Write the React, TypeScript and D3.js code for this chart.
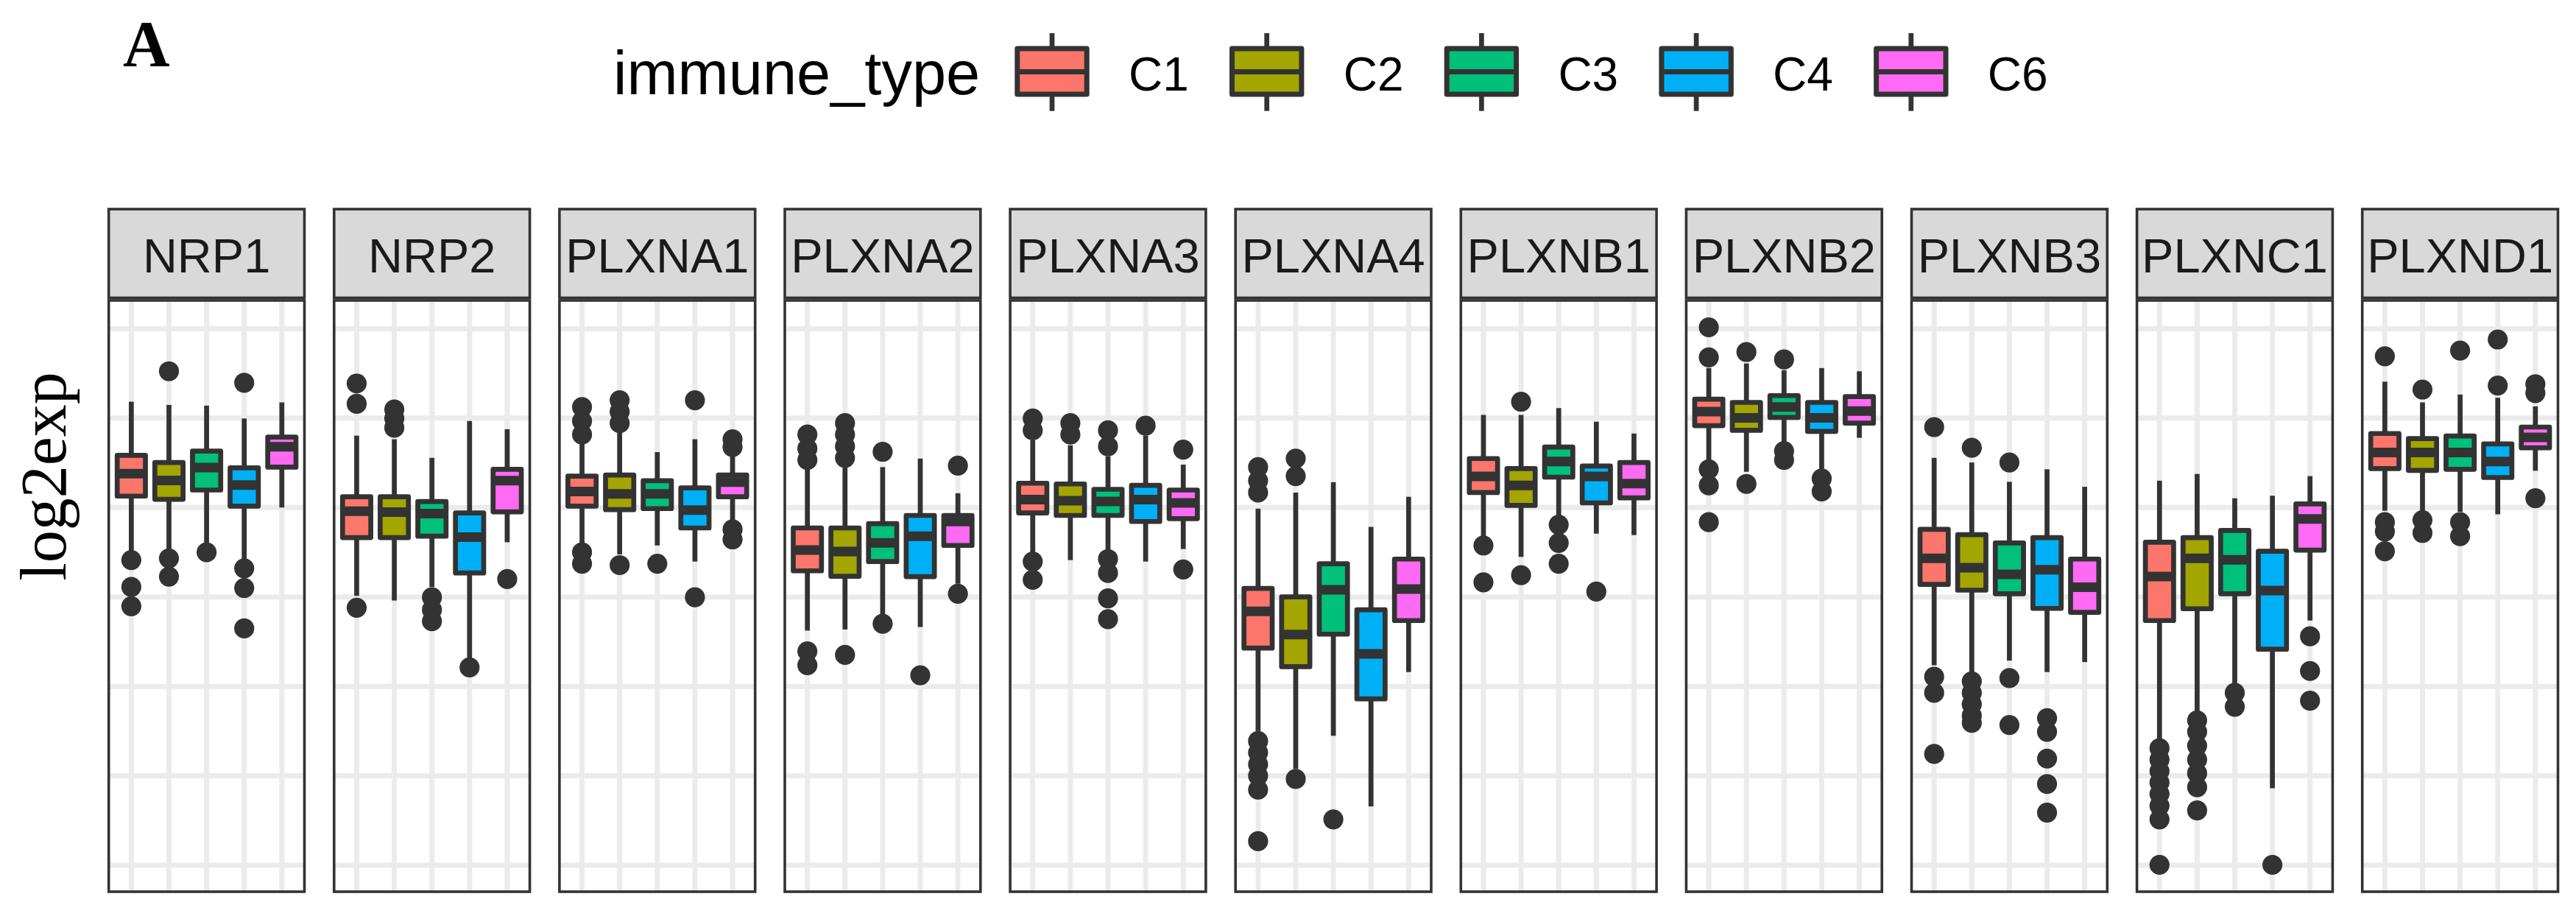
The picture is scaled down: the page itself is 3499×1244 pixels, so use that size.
import React from "react";
import * as d3 from "d3";

const genes = ["NRP1", "NRP2", "PLXNA1", "PLXNA2", "PLXNA3", "PLXNA4", "PLXNB1", "PLXNB2", "PLXNB3", "PLXNC1", "PLXND1"];
const immuneTypes = ["C1", "C2", "C3", "C4", "C6"];
const typeColors = ["#FC766C", "#A3A500", "#00C07C", "#00B0F6", "#FF6AF4"];
const yGridValues = [0, 2.5, 5, 7.5, 10, 12.5, 15];

// rows = genes, columns = immune types C1..C6
const lowerWhisker = [
  [8.78, 8.81, 9.01, 8.49, 10.0],
  [7.53, 7.4, 7.78, 5.79, 9.03],
  [9.01, 8.69, 8.94, 8.49, 9.59],
  [6.56, 6.59, 7.01, 6.66, 7.87],
  [8.75, 8.53, 8.78, 8.49, 8.84],
  [3.75, 2.69, 3.62, 1.64, 5.4],
  [9.2, 8.62, 9.72, 9.27, 9.23],
  [11.33, 11.0, 11.78, 11.07, 11.95],
  [5.59, 5.4, 5.72, 5.4, 5.68],
  [3.53, 4.3, 5.04, 2.15, 6.84],
  [9.91, 9.91, 9.88, 9.81, 11.03],
];
const q1 = [
  [10.32, 10.23, 10.49, 10.04, 11.13],
  [9.16, 9.16, 9.2, 8.17, 9.88],
  [10.04, 9.94, 9.97, 9.43, 10.3],
  [8.23, 8.08, 8.49, 8.07, 8.94],
  [9.85, 9.78, 9.78, 9.61, 9.69],
  [6.07, 5.55, 6.46, 4.65, 6.84],
  [10.42, 10.06, 10.85, 10.13, 10.27],
  [12.29, 12.16, 12.52, 12.13, 12.36],
  [7.85, 7.69, 7.59, 7.18, 7.07],
  [6.84, 7.17, 7.59, 6.04, 8.81],
  [11.09, 11.04, 11.07, 10.84, 11.67],
];
const median = [
  [10.95, 10.76, 11.12, 10.63, 11.7],
  [9.9, 9.87, 9.83, 9.17, 10.75],
  [10.45, 10.38, 10.38, 9.93, 10.71],
  [8.81, 8.77, 9.01, 9.2, 9.61],
  [10.22, 10.19, 10.17, 10.22, 10.13],
  [7.1, 6.45, 7.7, 5.91, 7.72],
  [10.87, 10.62, 11.29, 10.87, 10.67],
  [12.68, 12.51, 12.81, 12.51, 12.7],
  [8.58, 8.32, 8.13, 8.26, 7.77],
  [8.07, 8.58, 8.54, 7.68, 9.68],
  [11.54, 11.54, 11.54, 11.29, 11.96],
];
const q3 = [
  [11.46, 11.26, 11.58, 11.11, 11.97],
  [10.3, 10.3, 10.17, 9.85, 11.07],
  [10.88, 10.91, 10.75, 10.55, 10.91],
  [9.43, 9.43, 9.55, 9.78, 9.78],
  [10.68, 10.66, 10.51, 10.62, 10.49],
  [7.74, 7.5, 8.43, 7.14, 8.56],
  [11.37, 11.09, 11.69, 11.16, 11.26],
  [13.03, 12.94, 13.13, 12.94, 13.1],
  [9.39, 9.24, 9.01, 9.16, 8.56],
  [9.03, 9.16, 9.36, 8.78, 10.1],
  [12.07, 11.93, 12.0, 11.78, 12.25],
];
const upperWhisker = [
  [12.96, 12.87, 12.85, 12.49, 12.94],
  [12.01, 11.91, 11.39, 12.42, 12.19],
  [11.78, 12.1, 11.55, 11.91, 11.43],
  [11.07, 11.2, 11.13, 11.37, 10.4],
  [11.88, 11.74, 11.43, 12.01, 11.2],
  [9.97, 10.42, 10.71, 9.46, 10.3],
  [12.59, 12.59, 12.78, 12.4, 12.07],
  [13.9, 14.03, 13.84, 13.9, 13.81],
  [11.39, 11.26, 10.72, 11.07, 10.58],
  [10.75, 10.94, 10.26, 10.33, 10.88],
  [13.52, 12.94, 13.16, 13.07, 12.83],
];
const outliers = [
  [[8.53, 7.78, 7.24], [13.81, 8.58, 8.07], [8.75], [13.49, 8.3, 7.75, 6.62], []],
  [[13.47, 12.9, 7.2], [12.74, 12.49, 12.23], [7.49, 7.14, 6.82], [5.53], [8.0]],
  [[12.81, 12.42, 12.04, 8.75, 8.43], [13.0, 12.68, 12.36, 8.39], [8.43], [13.0, 7.49], [11.91, 11.69, 9.39, 9.11]],
  [[12.04, 11.65, 11.33, 5.98, 5.59], [12.36, 12.04, 11.71, 11.39, 5.88], [11.56, 6.75], [5.31], [11.17, 7.59]],
  [[12.49, 12.16, 8.49, 7.98], [12.36, 12.04], [12.16, 11.71, 8.56, 8.17, 7.46, 6.88], [12.29], [11.62, 8.27]],
  [[11.13, 10.75, 10.42, 3.47, 3.15, 2.82, 2.5, 2.11, 0.67], [11.37, 10.88, 2.41], [1.28], [], []],
  [[8.94, 7.91], [12.96, 8.11], [9.52, 9.01, 8.43], [7.65], []],
  [[15.04, 14.2, 11.07, 10.62, 9.59], [14.35, 10.66], [14.14, 11.58, 11.33], [10.81, 10.45], []],
  [[12.25, 5.27, 4.82, 3.11], [11.67, 5.14, 4.82, 4.5, 4.18, 3.98], [11.26, 5.23, 3.92], [4.11, 3.73, 2.98, 2.27, 1.47], []],
  [[3.27, 2.95, 2.63, 2.31, 1.99, 1.66, 1.28, 0.01], [4.05, 3.73, 3.34, 2.95, 2.57, 2.18, 1.53], [4.82, 4.43], [0.01], [6.4, 5.43, 4.6]],
  [[14.23, 9.59, 9.33, 8.78], [13.3, 9.65, 9.29], [14.39, 9.59, 9.2], [14.7, 13.41], [13.45, 13.2, 10.26]],
];

const W = 3499;
const H = 1244;
const DARK = "#333333";
const GRID = "#EBEBEB";
const SANS = "'Liberation Sans', Arial, sans-serif";
const SERIF = "'Liberation Serif', 'Times New Roman', serif";

const panelLeft0 = 147.7;
const panelPitch = 306.1;
const panelW = 265.8;
const stripTop = 284;
const stripBottom = 404.5;
const panelTop = 408;
const panelBottom = 1211;

export default function App() {
  const allVals: number[] = [];
  genes.forEach((_, g) => {
    immuneTypes.forEach((_, t) => {
      allVals.push(lowerWhisker[g][t], upperWhisker[g][t], ...outliers[g][t]);
    });
  });
  const [mn, mx] = d3.extent(allVals) as [number, number];
  const pad = (mx - mn) * 0.05;
  const y = d3.scaleLinear().domain([mn - pad, mx + pad]).range([panelBottom, panelTop]);

  const lw = 6.7;
  const boxFrac = 0.75;

  const keyX = d3.scalePoint<string>().domain(immuneTypes).range([1429, 1429 + 291.7 * 4]);

  return (
    <svg width={W} height={H} style={{ position: "absolute", left: 0, top: 0, background: "#fff" }}>
      <rect x={0} y={0} width={W} height={H} fill="#fff" />
      {/* panel tag */}
      <text x={167} y={89} fontFamily={SERIF} fontWeight="bold" fontSize={88} fill="#000">A</text>

      {/* legend */}
      <text x={833} y={128} fontFamily={SANS} fontSize={83} fill="#000">immune_type</text>
      {immuneTypes.map((t, i) => {
        const cx = keyX(t)!;
        return (
          <g key={t}>
            <line x1={cx} x2={cx} y1={45} y2={66} stroke={DARK} strokeWidth={6.7} />
            <line x1={cx} x2={cx} y1={128} y2={150.7} stroke={DARK} strokeWidth={6.7} />
            <rect x={cx - 47.2} y={66} width={94.4} height={62} fill={typeColors[i]} stroke={DARK} strokeWidth={7} strokeLinejoin="round" />
            <line x1={cx - 47.2} x2={cx + 47.2} y1={97.5} y2={97.5} stroke={DARK} strokeWidth={7} />
            <text x={cx + 104} y={123} fontFamily={SANS} fontSize={64} fill="#000">{t}</text>
          </g>
        );
      })}

      {/* y axis title */}
      <text transform={`translate(89,647) rotate(-90)`} textAnchor="middle" fontFamily={SERIF} fontSize={88} fill="#000">log2exp</text>

      {genes.map((gene, g) => {
        const left = panelLeft0 + g * panelPitch;
        const x = d3.scalePoint<string>().domain(immuneTypes).range([left, left + panelW]).padding(0.6);
        const step = x.step();
        const bw = step * boxFrac;
        return (
          <g key={gene}>
            <rect x={left} y={panelTop} width={panelW} height={panelBottom - panelTop} fill="#fff" />
            {yGridValues.map((v) => (
              <line key={"h" + v} x1={left} x2={left + panelW} y1={y(v)} y2={y(v)} stroke={GRID} strokeWidth={7} />
            ))}
            {immuneTypes.map((t) => (
              <line key={"v" + t} x1={x(t)!} x2={x(t)!} y1={panelTop} y2={panelBottom} stroke={GRID} strokeWidth={7} />
            ))}
            {immuneTypes.map((t, i) => {
              const cx = x(t)!;
              return (
                <g key={t}>
                  {outliers[g][i].map((v, k) => (
                    <circle key={k} cx={cx} cy={y(v)} r={13.6} fill={DARK} />
                  ))}
                  <line x1={cx} x2={cx} y1={y(upperWhisker[g][i])} y2={y(q3[g][i])} stroke={DARK} strokeWidth={lw} />
                  <line x1={cx} x2={cx} y1={y(q1[g][i])} y2={y(lowerWhisker[g][i])} stroke={DARK} strokeWidth={lw} />
                  <rect
                    x={cx - bw / 2}
                    y={y(q3[g][i])}
                    width={bw}
                    height={y(q1[g][i]) - y(q3[g][i])}
                    fill={typeColors[i]}
                    stroke={DARK}
                    strokeWidth={lw}
                    strokeLinejoin="round"
                  />
                  <line x1={cx - bw / 2} x2={cx + bw / 2} y1={y(median[g][i])} y2={y(median[g][i])} stroke={DARK} strokeWidth={13} />
                </g>
              );
            })}
            <rect x={left} y={panelTop} width={panelW} height={panelBottom - panelTop} fill="none" stroke={DARK} strokeWidth={3.6} />
            <rect x={left} y={stripTop} width={panelW} height={stripBottom - stripTop} fill="#D9D9D9" stroke={DARK} strokeWidth={3.6} />
            <text x={left + panelW / 2} y={370} textAnchor="middle" fontFamily={SANS} fontSize={65} fill="#1A1A1A">{gene}</text>
          </g>
        );
      })}
    </svg>
  );
}
